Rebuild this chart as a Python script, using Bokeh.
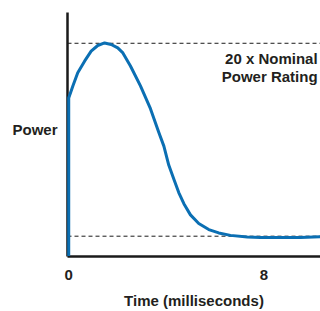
from bokeh.plotting import figure
from bokeh.models import Label, Span, FixedTicker, Range1d
from bokeh.embed import file_html
from bokeh.resources import INLINE

# Data (time in ms, power in multiples of nominal rating)
time_ms = [0.0, 0.0, 0.17, 0.37, 0.65, 0.92, 1.19, 1.47, 1.74, 2.01, 2.22, 2.53, 2.94,
           3.35, 3.69, 3.90, 4.10, 4.31, 4.51, 4.72, 4.99, 5.33, 5.74, 6.15, 6.63, 7.32,
           7.86, 9.50, 10.35]
power = [-0.95, 14.6, 15.8, 17.1, 18.24, 19.22, 19.78, 20.03, 19.88, 19.54, 19.05, 17.76, 15.8,
         13.56, 11.24, 9.87, 8.0, 6.6, 5.3, 4.2, 3.1, 2.25, 1.65, 1.32, 1.08, 0.92,
         0.86, 0.86, 0.95]
peak_level = 20
nominal_level = 1
x_ticks = [0, 8]
x_title = "Time (milliseconds)"
y_title = "Power"
y_title_level = 11.5
note_lines = ["20 x Nominal", "Power Rating"]

FONT = "Liberation Sans"
TXT = "#231f20"

p = figure(width=320, height=311, output_backend="svg", toolbar_location=None,
           x_range=Range1d(-0.05, 10.32), y_range=Range1d(-1.0, 23.03),
           min_border_left=67, min_border_right=0, min_border_top=12, min_border_bottom=53)
p.outline_line_color = None
p.xgrid.visible = False
p.ygrid.visible = False
p.background_fill_color = "white"

# axes
for ax in (p.xaxis[0], p.yaxis[0]):
    ax.axis_line_color = "#1a1a1a"
    ax.axis_line_width = 2.5
    ax.major_tick_line_color = None
    ax.minor_tick_line_color = None
    ax.major_tick_in = 0
    ax.major_tick_out = 0
    ax.minor_tick_in = 0
    ax.minor_tick_out = 0
    ax.major_label_text_font = FONT
    ax.major_label_text_font_style = "bold"
    ax.major_label_text_font_size = "15px"
    ax.major_label_text_color = TXT

p.xaxis.ticker = FixedTicker(ticks=x_ticks)
p.xaxis.major_label_standoff = 13
p.xaxis.axis_label = x_title
p.xaxis.axis_label_text_font = FONT
p.xaxis.axis_label_text_font_style = "bold"
p.xaxis.axis_label_text_font_size = "15px"
p.xaxis.axis_label_text_color = TXT
p.xaxis.axis_label_standoff = 9

# "Power" as a horizontal label beside the axis
p.yaxis.ticker = FixedTicker(ticks=[y_title_level])
p.yaxis.major_label_overrides = {y_title_level: y_title}
p.yaxis.major_label_standoff = 10

# reference levels
p.add_layout(Span(location=peak_level, dimension="width", line_color="#1a1a1a",
                  line_width=1, line_dash="4 3"))
p.add_layout(Span(location=nominal_level, dimension="width", line_color="#1a1a1a",
                  line_width=1, line_dash="4 3"))

r = p.line(time_ms, power, line_color="#0b6fb3", line_width=3, line_join="round")
r.level = "overlay"

# note text
p.add_layout(Label(x=10.2, y=18.5, text=note_lines[0], text_align="right", text_baseline="middle",
                   text_font=FONT, text_font_style="bold", text_font_size="15px", text_color=TXT))
p.add_layout(Label(x=10.2, y=16.75, text=note_lines[1], text_align="right", text_baseline="middle",
                   text_font=FONT, text_font_style="bold", text_font_size="15px", text_color=TXT))

open("out.html", "w").write(file_html(p, INLINE))
